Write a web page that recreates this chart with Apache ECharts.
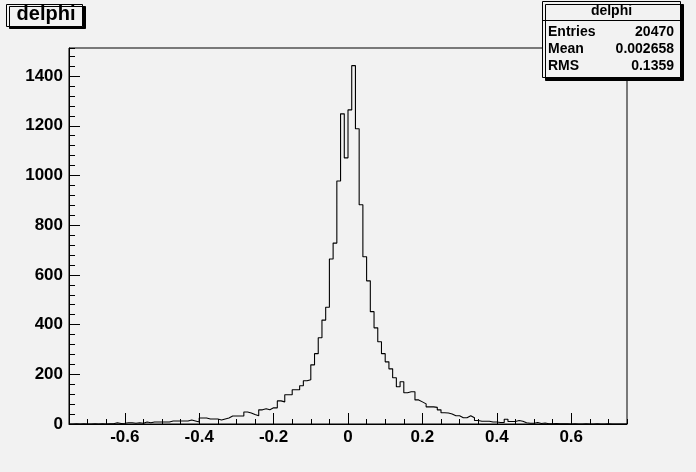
<!DOCTYPE html>
<html>
<head>
<meta charset="utf-8">
<script src="https://cdn.jsdelivr.net/npm/echarts@6/dist/echarts.min.js"></script>
<style>
html,body{margin:0;padding:0;background:#f2f2f2;}
#chart{width:696px;height:472px;}
</style>
</head>
<body>
<div id="chart"></div>
<script>
// ---- data ----
const histTitle = 'delphi';
const binLow = -0.75;
const binWidth = 0.01;
const counts = [
  0,1,0,1,0,0,1,0,1,0,1,1,
  5,2,3,5,5,3,5,3,
  8,5,8,8,8,8,8,12,12,12,
  12,12,16,12,8,24,24,20,20,20,
  16,20,24,32,32,32,32,48,44,38,
  33,57,61,57,65,65,93,89,118,118,
  138,138,154,174,178,238,283,347,418,470,
  664,728,978,1248,1071,1264,1442,1188,882,673,
  576,452,387,331,283,250,222,186,150,170,
  126,130,130,97,89,81,69,69,67,57,
  45,44,40,33,33,25,25,33,25,14,
  11,11,11,8,8,6,6,19,10,10,
  14,11,5,3,3,6,2,4,1,1,
  2,1,1,1,0,1,0,0,1,0,
  0,1,0,0,1,0,0,0,0,0
];
const statsNames = ['Entries', 'Mean', 'RMS'];
const statsValues = ['20470', '0.002658', '0.1359'];

// axis settings
const X_MIN = -0.75, X_MAX = 0.75;
const Y_MAX = 1513;
const X_MAJOR_MIN = -0.6, X_MAJOR_MAX = 0.6, X_MAJOR_STEP = 0.2, X_MINOR_STEP = 0.05;
const Y_MAJOR_MAX = 1400, Y_MAJOR_STEP = 200, Y_MINOR_STEP = 40;

// ---- layout ----
const FONT = '"Liberation Sans", Arial, Helvetica, sans-serif';
const BG = '#f2f2f2';
const G = {left: 69, top: 48, width: 558, height: 376};
const pxX = G.width / (X_MAX - X_MIN);
const pxY = G.height / Y_MAX;

const histData = counts.map((c, i) => [+(binLow + i * binWidth).toFixed(4), c]);
histData.push([+(binLow + counts.length * binWidth).toFixed(4), counts[counts.length - 1]]);

const chart = echarts.init(document.getElementById('chart'), null, {renderer: 'canvas'});
const blackLine = {color: '#000', width: 1};
const labelStyle = {color: '#000', fontSize: 17, fontWeight: 'bold', fontFamily: FONT,
  formatter: v => String(+v.toFixed(4))};

const statsChildren = [
  {type: 'rect', shape: {x: 542.5, y: 1.5, width: 138, height: 76},
   style: {fill: BG, stroke: '#000', lineWidth: 1, shadowColor: '#000', shadowOffsetX: 3, shadowOffsetY: 3, shadowBlur: 0}},
  {type: 'line', shape: {x1: 542.5, y1: 20.5, x2: 680.5, y2: 20.5}, style: {stroke: '#000', lineWidth: 1}},
  {type: 'text', x: 611.5, y: 11.2, style: {text: histTitle, fill: '#000', font: 'bold 14px ' + FONT, align: 'center', verticalAlign: 'middle'}}
];
statsNames.forEach((n, i) => {
  const y = 31.8 + i * 17.2;
  statsChildren.push({type: 'text', x: 548, y: y, style: {text: n, fill: '#000', font: 'bold 14px ' + FONT, align: 'left', verticalAlign: 'middle'}});
  statsChildren.push({type: 'text', x: 674, y: y, style: {text: statsValues[i], fill: '#000', font: 'bold 14px ' + FONT, align: 'right', verticalAlign: 'middle'}});
});

chart.setOption({
  animation: false,
  backgroundColor: BG,
  grid: [
    {left: G.left, top: G.top, width: G.width, height: G.height, show: true, borderColor: '#000', borderWidth: 1, backgroundColor: 'transparent'},
    {left: G.left + (X_MAJOR_MIN - X_MIN) * pxX, width: (X_MAJOR_MAX - X_MAJOR_MIN) * pxX, top: G.top, height: G.height},
    {left: G.left, width: G.width, top: G.top + (Y_MAX - Y_MAJOR_MAX) * pxY, height: Y_MAJOR_MAX * pxY}
  ],
  xAxis: [
    {gridIndex: 0, type: 'value', min: X_MIN, max: X_MAX, interval: X_MINOR_STEP,
     axisLine: {show: true, onZero: false, lineStyle: blackLine},
     axisTick: {show: true, inside: true, length: 5, lineStyle: blackLine},
     axisLabel: {show: false}, splitLine: {show: false}},
    {gridIndex: 1, type: 'value', min: X_MAJOR_MIN, max: X_MAJOR_MAX, interval: X_MAJOR_STEP,
     axisLine: {show: false, onZero: false},
     axisTick: {show: true, inside: true, length: 11, lineStyle: blackLine},
     axisLabel: Object.assign({margin: 5}, labelStyle), splitLine: {show: false}},
    {gridIndex: 2, type: 'value', min: X_MIN, max: X_MAX, show: false, axisLine: {onZero: false}}
  ],
  yAxis: [
    {gridIndex: 0, type: 'value', min: 0, max: Y_MAX, interval: Y_MINOR_STEP,
     axisLine: {show: true, onZero: false, lineStyle: blackLine},
     axisTick: {show: true, inside: true, length: 6, lineStyle: blackLine},
     axisLabel: {show: false}, splitLine: {show: false}},
    {gridIndex: 1, type: 'value', min: 0, max: Y_MAX, show: false, axisLine: {onZero: false}},
    {gridIndex: 2, type: 'value', min: 0, max: Y_MAJOR_MAX, interval: Y_MAJOR_STEP,
     axisLine: {show: false, onZero: false},
     axisTick: {show: true, inside: true, length: 11, lineStyle: blackLine},
     axisLabel: Object.assign({margin: 6}, labelStyle), splitLine: {show: false}}
  ],
  series: [{
    type: 'line', xAxisIndex: 0, yAxisIndex: 0, step: 'end', data: histData,
    symbol: 'none', showSymbol: false, clip: true,
    lineStyle: {color: '#000', width: 1.1}, silent: true
  }],
  graphic: [
    {type: 'rect', shape: {x: 6.5, y: 4.5, width: 76, height: 22},
     style: {fill: BG, stroke: '#000', lineWidth: 1, shadowColor: '#000', shadowOffsetX: 3, shadowOffsetY: 2, shadowBlur: 0}},
    {type: 'text', x: 46, y: 14.3, style: {text: histTitle, fill: '#000', font: 'bold 20px ' + FONT, align: 'center', verticalAlign: 'middle'}},
    {type: 'group', children: statsChildren}
  ]
});
</script>
</body>
</html>
